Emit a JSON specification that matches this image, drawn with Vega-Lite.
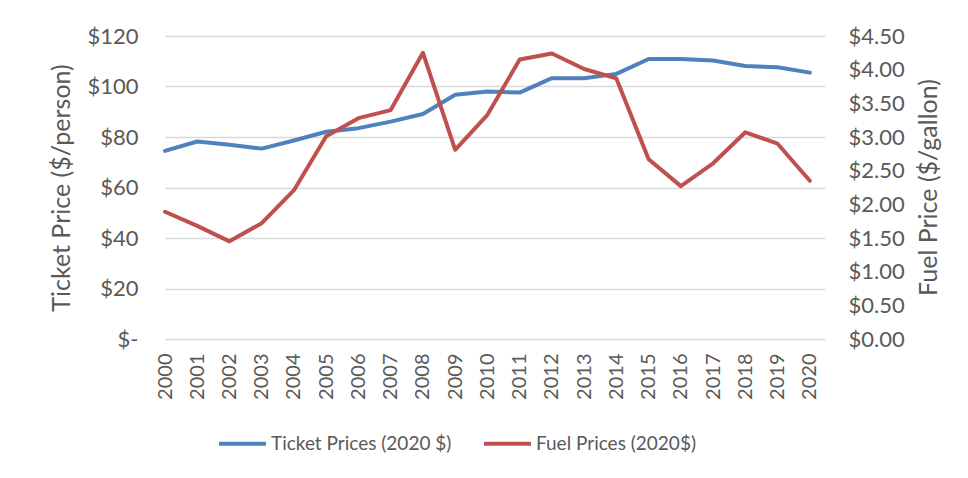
{
  "$schema": "https://vega.github.io/schema/vega-lite/v6.json",
  "autosize": {"type": "none"},
  "width": 660,
  "height": 303,
  "padding": {"left": 165, "top": 36, "right": 143, "bottom": 139},
  "background": "white",
  "config": {
    "view": {"stroke": null},
    "font": "Lato",
    "axis": {
      "labelFont": "Lato",
      "titleFont": "Lato",
      "labelColor": "#595959",
      "titleColor": "#595959",
      "labelFontSize": 22,
      "titleFontSize": 25,
      "titleFontWeight": "normal",
      "domain": false,
      "ticks": false,
      "gridColor": "#d9d9d9",
      "gridWidth": 1.3
    },
    "legend": {
      "labelFont": "Lato",
      "labelFontSize": 19,
      "labelColor": "#595959",
      "labelLimit": 400
    }
  },
  "data": {
    "values": [
      {"year": 2000, "ticket": 74.5, "fuel": 1.89},
      {"year": 2001, "ticket": 78.2, "fuel": 1.68},
      {"year": 2002, "ticket": 76.9, "fuel": 1.45},
      {"year": 2003, "ticket": 75.4, "fuel": 1.72},
      {"year": 2004, "ticket": 78.6, "fuel": 2.21},
      {"year": 2005, "ticket": 82.1, "fuel": 3.01},
      {"year": 2006, "ticket": 83.5, "fuel": 3.28},
      {"year": 2007, "ticket": 86.1, "fuel": 3.40},
      {"year": 2008, "ticket": 89.1, "fuel": 4.25},
      {"year": 2009, "ticket": 96.7, "fuel": 2.81},
      {"year": 2010, "ticket": 98.0, "fuel": 3.33},
      {"year": 2011, "ticket": 97.6, "fuel": 4.15},
      {"year": 2012, "ticket": 103.3, "fuel": 4.24},
      {"year": 2013, "ticket": 103.3, "fuel": 4.01},
      {"year": 2014, "ticket": 105.0, "fuel": 3.87},
      {"year": 2015, "ticket": 110.9, "fuel": 2.67},
      {"year": 2016, "ticket": 110.9, "fuel": 2.27},
      {"year": 2017, "ticket": 110.3, "fuel": 2.61},
      {"year": 2018, "ticket": 108.1, "fuel": 3.07},
      {"year": 2019, "ticket": 107.6, "fuel": 2.90},
      {"year": 2020, "ticket": 105.5, "fuel": 2.35}
    ]
  },
  "encoding": {
    "x": {
      "field": "year",
      "type": "quantitative",
      "scale": {"domain": [2000, 2020.47], "nice": false, "zero": false},
      "axis": {
        "title": null,
        "values": [2000,2001,2002,2003,2004,2005,2006,2007,2008,2009,2010,2011,2012,2013,2014,2015,2016,2017,2018,2019,2020],
        "format": "d",
        "labelAngle": -90,
        "labelPadding": 14,
        "grid": false,
        "labelFontSize": 20,
        "labelOverlap": false,
        "labelBound": false,
        "labelFlush": false
      }
    }
  },
  "layer": [
    {
      "mark": {"type": "line", "strokeWidth": 4, "strokeCap": "round", "strokeJoin": "round"},
      "encoding": {
        "y": {
          "field": "ticket",
          "type": "quantitative",
          "scale": {"domain": [0, 120], "nice": false},
          "axis": {
            "title": "Ticket Price ($/person)",
            "orient": "left",
            "values": [0, 20, 40, 60, 80, 100, 120],
            "labelExpr": "datum.value == 0 ? '$-' : '$' + datum.value",
            "labelPadding": 27,
            "titlePadding": 12,
            "grid": true
          }
        },
        "color": {
          "datum": "Ticket Prices (2020 $)",
          "type": "nominal",
          "scale": {"domain": ["Ticket Prices (2020 $)", "Fuel Prices (2020$)"], "range": ["#4f81bd", "#c0504d"]},
          "legend": {
            "title": null,
            "orient": "none",
            "direction": "horizontal",
            "legendX": 52,
            "legendY": 382,
            "symbolType": "stroke",
            "symbolSize": 2200,
            "symbolStrokeWidth": 4,
            "labelOffset": 3,
            "columnPadding": 24
          }
        }
      }
    },
    {
      "mark": {"type": "line", "strokeWidth": 4, "strokeCap": "round", "strokeJoin": "round"},
      "encoding": {
        "y": {
          "field": "fuel",
          "type": "quantitative",
          "scale": {"domain": [0, 4.5], "nice": false},
          "axis": {
            "title": "Fuel Price ($/gallon)",
            "orient": "right",
            "titleAngle": 270,
            "titleX": 103,
            "titleY": 151,
            "titleAlign": "center",
            "titleBaseline": "middle",
            "values": [0, 0.5, 1, 1.5, 2, 2.5, 3, 3.5, 4, 4.5],
            "format": "$.2f",
            "labelPadding": 23,
            "grid": false
          }
        },
        "color": {"datum": "Fuel Prices (2020$)", "type": "nominal"}
      }
    }
  ],
  "resolve": {"scale": {"y": "independent"}}
}
